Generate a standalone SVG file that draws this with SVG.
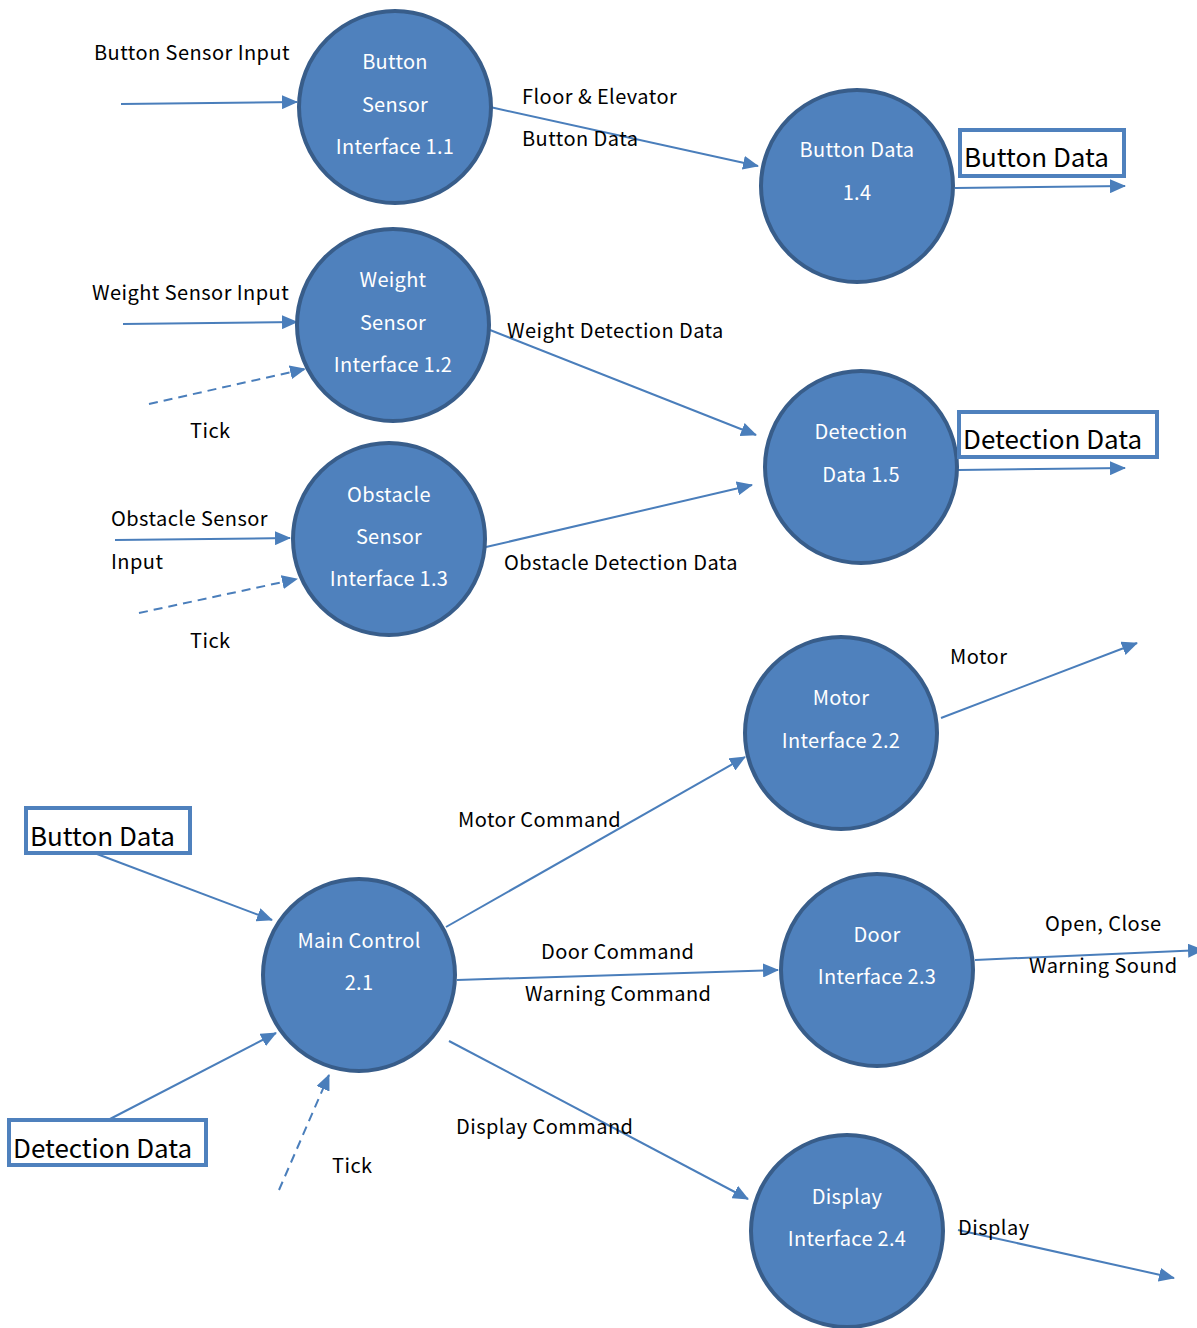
<svg xmlns="http://www.w3.org/2000/svg" width="1197" height="1328" viewBox="0 0 1197 1328">
<style>
.n{fill:#4F81BD;stroke:#385D8A;stroke-width:4}
.nt{fill:#FFFFFF;font-family:"Noto Sans CJK KR","Noto Sans",sans-serif;font-size:20px;text-anchor:middle;letter-spacing:0.3px}
.l{fill:#000;font-family:"Noto Sans CJK KR","Noto Sans",sans-serif;font-size:20px;letter-spacing:0.45px}
.bx{fill:#FFFFFF;stroke:#4F81BD;stroke-width:4}
.bt{fill:#000;font-family:"Noto Sans CJK KR","Noto Sans",sans-serif;font-size:26px}
.c{stroke:#4A7EBB;stroke-width:2;fill:none;marker-end:url(#a)}
.d{stroke-dasharray:9 6}
</style>
<defs>
<marker id="a" markerUnits="userSpaceOnUse" markerWidth="16" markerHeight="14" refX="15" refY="7" orient="auto">
<path d="M0,0 L16,7 L0,14 Z" fill="#4A7EBB"/>
</marker>
</defs>
<rect width="1197" height="1328" fill="#FFFFFF"/>
<g id="connectors">
<line class="c" x1="121" y1="104" x2="297" y2="102"/>
<line class="c" x1="490" y1="107" x2="758" y2="166"/>
<line class="c" x1="955" y1="188" x2="1125" y2="186"/>
<line class="c" x1="123" y1="324" x2="297" y2="322"/>
<line class="c d" x1="149" y1="404" x2="305" y2="369"/>
<line class="c" x1="490" y1="330" x2="756" y2="435"/>
<line class="c" x1="115" y1="540" x2="290" y2="538"/>
<line class="c d" x1="139" y1="613" x2="297" y2="579"/>
<line class="c" x1="486" y1="547" x2="752" y2="485"/>
<line class="c" x1="958" y1="470" x2="1125" y2="468"/>
<line class="c" x1="941" y1="718" x2="1137" y2="643"/>
<line class="c" x1="97" y1="854" x2="272" y2="920"/>
<line class="c" x1="110" y1="1119" x2="276" y2="1033"/>
<line class="c d" x1="279" y1="1190" x2="329" y2="1075"/>
<line class="c" x1="446" y1="927" x2="745" y2="757"/>
<line class="c" x1="457" y1="980" x2="778" y2="970"/>
<line class="c" x1="449" y1="1041" x2="748" y2="1199"/>
<line class="c" x1="975" y1="960" x2="1203" y2="950"/>
<line class="c" x1="958" y1="1230" x2="1174" y2="1278"/>
</g>
<g id="n11"><circle class="n" cx="395" cy="107" r="96"/><text class="nt" x="395" y="69">Button</text><text class="nt" x="395" y="112">Sensor</text><text class="nt" x="395" y="154">Interface 1.1</text></g>
<g id="n14"><circle class="n" cx="857" cy="186" r="96"/><text class="nt" x="857" y="157">Button Data</text><text class="nt" x="857" y="200">1.4</text></g>
<g id="n12"><circle class="n" cx="393" cy="325" r="96"/><text class="nt" x="393" y="287">Weight</text><text class="nt" x="393" y="330">Sensor</text><text class="nt" x="393" y="372">Interface 1.2</text></g>
<g id="n15"><circle class="n" cx="861" cy="467" r="96"/><text class="nt" x="861" y="439">Detection</text><text class="nt" x="861" y="482">Data 1.5</text></g>
<g id="n13"><circle class="n" cx="389" cy="539" r="96"/><text class="nt" x="389" y="502">Obstacle</text><text class="nt" x="389" y="544">Sensor</text><text class="nt" x="389" y="586">Interface 1.3</text></g>
<g id="n22"><circle class="n" cx="841" cy="733" r="96"/><text class="nt" x="841" y="705">Motor</text><text class="nt" x="841" y="748">Interface 2.2</text></g>
<g id="n21"><circle class="n" cx="359" cy="975" r="96"/><text class="nt" x="359" y="948">Main Control</text><text class="nt" x="359" y="990">2.1</text></g>
<g id="n23"><circle class="n" cx="877" cy="970" r="96"/><text class="nt" x="877" y="942">Door</text><text class="nt" x="877" y="984">Interface 2.3</text></g>
<g id="n24"><circle class="n" cx="847" cy="1231" r="96"/><text class="nt" x="847" y="1204">Display</text><text class="nt" x="847" y="1246">Interface 2.4</text></g>
<g id="store1"><rect class="bx" x="960" y="130" width="164" height="46"/><text class="bt" x="964" y="167">Button Data</text></g>
<g id="store2"><rect class="bx" x="959" y="412" width="198" height="45"/><text class="bt" x="963" y="449">Detection Data</text></g>
<g id="store3"><rect class="bx" x="26" y="808" width="164" height="45"/><text class="bt" x="30" y="846">Button Data</text></g>
<g id="store4"><rect class="bx" x="9" y="1120" width="197" height="45"/><text class="bt" x="13" y="1158">Detection Data</text></g>
<g id="labels">
<text class="l" x="94" y="60">Button Sensor Input</text>
<text class="l" x="522" y="104">Floor &amp; Elevator</text>
<text class="l" x="522" y="146">Button Data</text>
<text class="l" x="92" y="300">Weight Sensor Input</text>
<text class="l" x="190" y="438">Tick</text>
<text class="l" x="507" y="338">Weight Detection Data</text>
<text class="l" x="111" y="526">Obstacle  Sensor</text>
<text class="l" x="111" y="569">Input</text>
<text class="l" x="504" y="570">Obstacle Detection Data</text>
<text class="l" x="190" y="648">Tick</text>
<text class="l" x="950" y="664">Motor</text>
<text class="l" x="458" y="827">Motor Command</text>
<text class="l" x="541" y="959">Door Command</text>
<text class="l" x="525" y="1001">Warning Command</text>
<text class="l" x="1045" y="931">Open, Close</text>
<text class="l" x="1029" y="973">Warning Sound</text>
<text class="l" x="332" y="1173">Tick</text>
<text class="l" x="456" y="1134">Display Command</text>
<text class="l" x="958" y="1235">Display</text>
</g>
</svg>
